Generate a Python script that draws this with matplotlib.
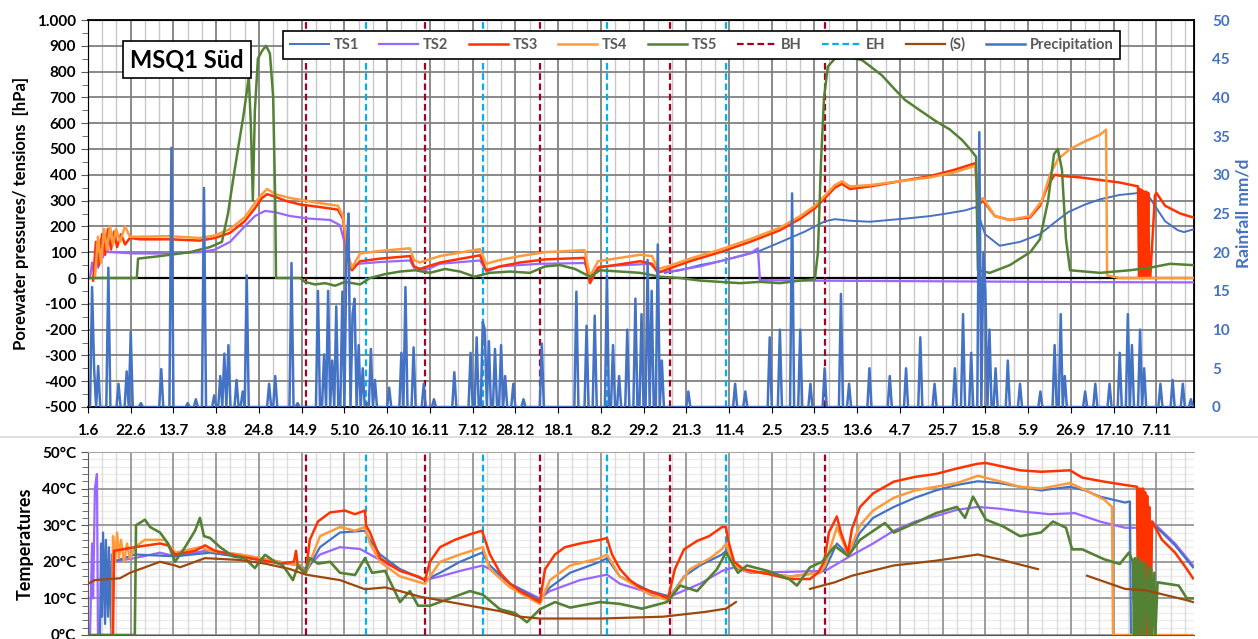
import numpy as np
import matplotlib
matplotlib.use("Agg")
import matplotlib.pyplot as plt
from matplotlib.lines import Line2D

plt.rcParams["font.family"] = ["Lato", "DejaVu Sans"]
plt.rcParams["font.weight"] = "bold"
plt.rcParams["axes.labelweight"] = "bold"

# x axis: days since 1.6.2019, one label every 21 days
X_LABELS = ["1.6", "22.6", "13.7", "3.8", "24.8", "14.9", "5.10", "26.10", "16.11",
            "7.12", "28.12", "18.1", "8.2", "29.2", "21.3", "11.4", "2.5", "23.5",
            "13.6", "4.7", "25.7", "15.8", "5.9", "26.9", "17.10", "7.11"]
N_DAYS = 543.5

# event markers (days)
BH_DAYS = [107, 165.6, 222, 286, 362]
EH_DAYS = [136.6, 194, 255, 313.5]

# ---------------- porewater pressures [hPa] ----------------
TS1_P_DAY = [283.5, 291, 300.7, 310.6, 320.4, 330, 337.6, 345, 352.3, 357.2, 362.2, 367, 374.4,
             384.3, 394, 404, 413.8, 423.6, 431, 436.4, 437.8, 440.8, 448, 458, 467.8, 475,
             481.6, 490, 497.3, 507, 517, 521, 524.3, 529.3, 535.6, 538.6, 543]
TS1_P_VAL = [20, 30, 50, 65, 85, 105, 130, 155, 180, 200, 220, 228, 222,
             218, 225, 232, 240, 252, 262, 275, 240, 170, 125, 140, 170, 215,
             255, 285, 305, 322, 330, 320, 280, 220, 185, 178, 188]

TS2_P_DAY = [1, 2, 3, 4, 5, 6.4, 7.4, 8.8, 9.8, 11.8, 23, 40.3, 55, 62.4, 69.8, 77, 82, 87, 92,
             99.3, 109, 119, 123.8, 126.3, 128.7, 132.7, 143.5, 158.2, 160.2, 165.6, 173,
             192.6, 196, 202.5, 222, 244, 247.2, 251.6, 276.2, 280, 286, 300.7, 315.5,
             325.3, 329.2, 330.2, 350, 399, 448, 497.3, 543]
TS2_P_VAL = [0, 60, 20, 120, 40, 150, 80, 160, 100, 100, 95, 95, 100, 110, 140, 200, 240, 260, 255,
             240, 230, 225, 205, 130, 40, 55, 62, 68, 40, 30, 55,
             68, 25, 45, 55, 58, 5, 45, 55, 25, 25, 45, 75,
             95, 115, -8, -10, -12, -14, -16, -17]

TS3_P_DAY = [2.5, 3.9, 5.4, 6.9, 8.4, 9.8, 11.3, 12.8, 14.3, 16.2, 18.2, 20.6, 25.6, 40.3, 55,
             62.4, 69.8, 77, 82, 85.5, 88, 92, 96.8, 104.2, 114, 122.8, 125.3, 127.8, 129.7,
             133.7, 143.5, 158.2, 160.2, 163, 173, 192.6, 195.6, 202.5, 212.3, 224.6, 244,
             246.7, 250.6, 271.3, 277.2, 280, 285, 295.8, 310.6, 325.3, 340, 350, 357.2,
             362.2, 367, 370.5, 374.4, 384.3, 399, 413.8, 426, 436, 437.3, 439.8, 445.7,
             453, 463, 467.8, 471.8, 475, 479, 487.5, 497.3, 507, 516, 516.5, 517, 517.5,
             518, 518.5, 519, 519.5, 520, 520.5, 521, 521.5, 522, 524.3, 525, 529.3,
             536.7, 543]
TS3_P_VAL = [-10, 140, 50, 170, 90, 190, 110, 180, 120, 170, 130, 155, 150, 150, 145,
             155, 175, 220, 270, 310, 325, 315, 300, 285, 275, 265, 230, 70, 30,
             65, 75, 85, 45, 35, 60, 88, 30, 45, 60, 72, 78,
             -20, 40, 65, 55, 20, 35, 65, 100, 140, 185, 230, 270,
             310, 350, 365, 345, 355, 375, 395, 420, 445, 280, 300, 240,
             225, 235, 280, 360, 400, 395, 390, 380, 370, 355, 0, 345, 0,
             340, 0, 335, 0, 335, 0, 330, 0, 0, 320, 330, 280,
             250, 235]

TS4_P_DAY = [3.4, 4.9, 6.4, 7.9, 9.3, 10.8, 12.3, 13.8, 15.7, 18.2, 20.6, 25.6, 40.3, 55,
             62.4, 69.8, 77, 82, 85.5, 88, 92, 99.3, 106.6, 114, 122.8, 125.3, 127.8,
             129.7, 133.7, 143.5, 158.2, 160.2, 163, 173, 192.6, 195.6, 202.5, 212.3,
             224.6, 244, 246.7, 250.6, 271.3, 277.2, 280, 285, 295.8, 310.6, 325.3, 340,
             350, 357.2, 362.2, 367, 370.5, 374.4, 384.3, 399, 413.8, 426, 436, 437.3,
             439.8, 445.7, 453, 463, 468.8, 472.7, 476.6, 482.6, 490, 497.3, 500.3, 500.8,
             507, 543]
TS4_P_VAL = [0, 160, 60, 190, 110, 200, 130, 190, 140, 200, 160, 160, 162, 155,
             165, 190, 235, 290, 325, 345, 325, 310, 300, 290, 280, 240, 90,
             40, 95, 105, 115, 70, 60, 85, 112, 55, 70, 85,
             100, 108, 5, 65, 90, 85, 35, 45, 75, 110, 150, 195,
             240, 280, 320, 360, 375, 355, 360, 375, 390, 410, 435, 290,
             310, 240, 225, 240, 300, 400, 460, 500, 530, 555, 575, 10,
             0, 0]

TS5_P_DAY = [0, 24, 24.6, 35.4, 50, 60, 65.8, 68.8, 71.3, 73.7, 76.2, 78, 79, 80, 81, 82,
             83.5, 85.5, 87.5, 89.4, 91, 92, 92.4, 104.2, 106.6, 111.5, 116.5, 121.4,
             126.3, 133.7, 138.6, 146, 153.3, 160.7, 168, 175.4, 182.8, 190, 197.5, 207.4,
             217.2, 224.6, 232, 239.3, 246.7, 251.6, 261.4, 271.3, 281, 291, 300.7, 310.6,
             320.4, 330.2, 340, 350, 357.2, 358.7, 360.2, 361.7, 363.6, 367, 374.4, 380.3,
             385.3, 390.2, 396.6, 401.5, 408.8, 416.2, 423.6, 429.5, 433.4, 436.4, 437.3,
             443.2, 453, 463, 467.8, 471.8, 474.7, 476.6, 478.6, 480.6, 482.6, 497.3, 512,
             521.9, 531.7, 543]
TS5_P_VAL = [0, 0, 75, 85, 100, 120, 140, 250, 380, 500, 620, 720, 780, 600, 300, 650,
             850, 880, 900, 870, 700, 300, 0, 0, -15, -25, -20, -30,
             -15, -25, 0, 15, 25, 30, 20, 35, 25, 5, 20, 25,
             20, 45, 50, 35, 5, 30, 25, 20, 5, 0, -10, -15,
             -20, -15, -20, -10, -5, 100, 450, 700, 820, 850, 855, 845,
             815, 785, 730, 690, 650, 610, 575, 535, 500, 470, 30,
             20, 50, 100, 150, 300, 480, 500, 420, 150, 30, 20, 30,
             40, 55, 50]

# ---------------- rainfall [mm/d] (day, amount) ----------------
RAIN_DAY = [2, 3, 5, 10, 15, 19, 21, 26, 36, 41, 49, 53, 57, 62, 65, 67, 69, 73, 76, 78, 89,
            92, 100, 103, 113, 116, 118, 120, 122, 125, 127, 128, 130, 131, 133, 135, 137,
            139, 141, 148, 154, 156, 160, 165, 170, 180, 188, 191, 194, 195, 197, 200, 203,
            205, 209, 214, 223, 240, 245, 249, 255, 258, 261, 265, 269, 272, 275, 277, 280,
            282, 295, 318, 323, 335, 340, 346, 350, 355, 362, 370, 374, 384, 394, 402, 409,
            416, 426, 430, 434, 438, 440, 441, 443, 446, 452, 458, 468, 475, 478, 480, 490,
            495, 502, 507, 511, 513, 517, 519, 527, 533, 538, 542]
RAIN_MM = [15.5, 5, 5.3, 18, 3, 4.6, 9.7, 0.5, 4.9, 33.5, 0.5, 1, 28.3, 1.5, 4, 6.9, 8, 3.5, 2,
           17, 3, 4, 18.6, 0.5, 15, 6.8, 15, 6, 13, 14.9, 20, 25, 12, 14, 8, 5, 0.5,
           7.5, 3.5, 2.5, 7, 15.5, 7.7, 3, 1, 4.5, 7, 9, 11, 10, 8.5, 7.5, 8,
           4, 3, 1, 8.2, 14.9, 10.5, 11.8, 17, 8, 4, 10, 14, 12, 19, 15, 21,
           6, 2, 3, 2, 9, 10, 27.6, 10, 3, 5, 14.6, 3, 5, 4, 5, 9,
           3, 5, 12, 7, 35.5, 20, 15, 10, 5, 6, 3, 2, 8, 12, 4, 2,
           3, 3, 7, 12, 8, 10, 5, 3, 3.5, 3, 1]

# ---------------- temperatures [°C] ----------------
TS1_T_DAY = [5.9, 6.4, 6.9, 7.4, 8.4, 8.8, 9.8, 10.3, 11.3, 11.8, 12.3, 23, 42.8, 60, 84.5,
             104.2, 107, 114, 123.8, 136.1, 138.6, 143.5, 153.3, 165.6, 173, 182.8, 193.6,
             197.5, 207.4, 222, 227, 236.9, 251.6, 255, 261.4, 276.2, 286, 292.9, 300.7,
             311.6, 313.5, 317.5, 322.9, 345, 359.7, 362.2, 368, 373.5, 379.4, 385.8, 396,
             406.4, 416.7, 427, 437.3, 448, 458, 468.3, 482.6, 490, 497.3, 509.6, 512,
             512.5, 521.4, 521.9, 527.8, 534.2, 543]
TS1_T_VAL = [0, 25, 5, 28, 3, 26, 5, 24, 2, 22, 20, 22, 21.5, 22.5, 20.5,
             19, 17, 24, 28, 28.5, 26, 22, 18, 15, 17, 20, 22.5,
             19, 14, 9.5, 13, 17, 20, 21, 16, 12, 10.5, 16, 19,
             22, 23, 19, 17.5, 16, 17, 18, 25, 22, 28, 32, 35,
             37.5, 39.5, 41, 42, 41.5, 40.5, 39.5, 40.5, 39.5, 37.8, 36.2, 36.5,
             0, 0, 31, 28, 24.5, 18.5]

TS2_T_DAY = [1, 2, 2.5, 3.4, 4.4, 4.9, 11.3, 11.8, 23, 35.4, 42.8, 57.5, 74.7, 94.3, 104.2,
             107, 114, 123.8, 133.7, 138.6, 148.4, 165.6, 173, 182.8, 194, 197.5, 207.4, 222,
             227, 241.8, 255, 261.4, 276.2, 286, 300.7, 311.6, 317.5, 325.3, 362.2, 374.4,
             385.8, 396, 406.4, 416.7, 427, 437.3, 448, 458, 472.7, 485, 497.3, 509.6, 519.9,
             520.4, 521.9, 522.9, 534.2, 543]
TS2_T_VAL = [0, 25, 10, 40, 44, 0, 0, 20, 21, 22.5, 21.5, 23, 22, 20, 19,
             18, 22, 24, 23.5, 22, 19, 15, 16, 17.5, 19, 18, 14, 10,
             12, 15, 16.5, 14, 11.5, 10.5, 14, 17.5, 18.5, 17, 17.5, 21.5,
             25, 28.5, 31, 32.5, 34.2, 35, 34.5, 33.8, 33, 33.3, 31, 29.3, 29.3,
             0, 0, 31, 25, 19]

TS3_T_DAY = [12.3, 12.8, 23, 35.4, 39.3, 42.8, 52.6, 57.5, 62.4, 74.7, 84.5, 94.3, 101.2, 102.2,
             103.2, 107, 109, 113, 119, 126.3, 131.2, 136.1, 136.6, 138.6, 143.5, 153.3,
             162.2, 165.6, 168, 173, 180.3, 187.7, 193.6, 197.5, 202.5, 207.4, 212.3, 222,
             224.6, 229.5, 234.4, 241.8, 251.6, 255, 257.5, 261.4, 266.3, 271.3, 278.6, 285,
             288.4, 292.9, 299.3, 305.2, 311.6, 313.5, 314.5, 317.5, 322, 334, 344.5, 354.8,
             358.7, 361.7, 364.1, 368, 370, 373.5, 375.4, 379.4, 385.8, 396, 406.4, 416.7,
             427, 437.3, 441.3, 458, 468.3, 482.6, 488.6, 499.3, 509.6, 515.5, 516, 516.5,
             517, 517.5, 518, 518.5, 519, 519.5, 520, 520.5, 521, 521.5, 522, 522.9, 527.8,
             534.2, 540, 543]
TS3_T_VAL = [0, 23, 24, 25, 24.5, 22, 23, 24.5, 23, 21.5, 20.5, 19.5, 20, 23,
             18.5, 17, 26, 31, 33.5, 34, 33, 34, 30, 28, 21, 17.5,
             16, 15, 20, 24, 26, 27.5, 28.5, 22, 17, 14, 12, 9,
             18, 22, 24, 25, 26, 26.5, 22, 18, 15, 13, 11.5, 10,
             18, 23.4, 25.7, 27, 29.5, 29.5, 26, 20, 18, 16.7, 15.3, 15.3,
             17, 20, 28, 32.4, 28, 22.5, 29, 35, 38.7, 41.9, 43.2, 44,
             45.5, 46.8, 47, 45, 44.6, 45, 43, 41.9, 41, 40.5, 0, 40,
             0, 40, 0, 40, 0, 39, 0, 38, 0, 35, 0, 31, 26,
             22.5, 18, 15.5]

TS4_T_DAY = [11.8, 12.3, 13.3, 14.3, 15.2, 16.2, 17.7, 19.2, 20.6, 23, 27.9, 37.8, 42.8, 55, 60,
             74.7, 94.3, 104.2, 107, 114, 123.8, 131.2, 136.1, 138.6, 143.5, 153.3, 165.6,
             173, 182.8, 194, 197.5, 207.4, 222, 227, 236.9, 251.6, 255, 261.4, 276.2, 285,
             295.8, 305.7, 311.6, 313.5, 317.5, 322.9, 345, 359.7, 362.2, 368, 373.5, 379.4,
             385.8, 396, 406.4, 416.7, 427, 437.3, 448, 458, 468.3, 482.6, 488.6, 499.3,
             503.2, 503.7, 543]
TS4_T_VAL = [0, 27, 20, 28, 21, 26, 20, 25, 21, 24, 26, 26, 22.5, 24, 23,
             22, 20, 19, 17, 27, 29.5, 28.5, 29.5, 25, 20, 16, 14,
             20, 22, 24, 18, 13, 8.5, 15, 19, 21, 22, 16, 11, 9.5,
             18, 21, 23.5, 25, 19, 17.5, 16, 17, 19, 29.5, 22, 30,
             34, 37.5, 39.5, 40.5, 41.5, 43.5, 42, 40.5, 40, 41.5, 40, 37,
             35, 0, 0]

TS5_T_DAY = [0, 23, 23.6, 28, 30.5, 35.4, 39.3, 42.8, 47.7, 52.6, 55, 57, 60, 64.9, 71.3, 77,
             82, 87, 91.9, 95.8, 100.7, 103.2, 106.6, 109, 113, 119, 123.8, 131.2, 136.1,
             139.6, 146, 153.3, 158.2, 162.2, 168, 177.9, 187.7, 194, 202.5, 209.8, 215.7,
             222, 229.5, 236.9, 246.7, 251.6, 261.4, 272.2, 284.5, 291, 299.3, 309.1, 313.5,
             319.4, 323.8, 334, 344.5, 348.4, 354.8, 360.7, 367, 373.5, 379.4, 391.6, 396,
             406.4, 416.7, 427, 431, 434.9, 441.3, 449.6, 458, 468.3, 474.2, 480.6, 483.6,
             488.6, 499.3, 507, 511.5, 513.5, 514, 514.5, 515, 516, 516.5, 517.5, 518, 519,
             519.5, 521, 521.5, 522.5, 523, 524, 524.5, 525.6, 536, 540, 543]
TS5_T_VAL = [0, 0, 30, 31.5, 29.5, 28, 25, 20, 24, 28.5, 32, 27, 26.5, 24, 21.5, 21,
             18.3, 21.9, 20, 19, 15, 19, 17, 21, 19.5, 20, 17, 16.4, 21,
             17, 17.5, 9, 12, 8, 8, 10, 12, 11, 7, 6, 3.5,
             7, 9, 7.5, 8.5, 9, 8.5, 7.2, 9, 13.5, 12, 18, 22.5,
             17, 19, 17.5, 15.3, 13.5, 18.5, 20, 24.3, 21.6, 26, 30.6, 28,
             30.6, 33.3, 35, 32, 37.8, 31.5, 29.7, 27, 28, 31, 29.3, 23.4,
             23.4, 20.7, 19.4, 22.5, 20, 0, 21, 0, 21, 0, 20, 0, 20,
             0, 19, 0, 18, 0, 17, 0, 14.4, 13.5, 10, 10]

# (S): three recorded stretches
S_T_DAY = [0, 3.4, 15.7, 20.6, 35.4, 42.8, 45.2, 57.5, 74.7, 87, 99.3, 107, 123.8, 131.2, 136.1,
           146, 153.3, 163, 173, 187.7, 202.5, 212.3, 222, 232, 251.6, 282.6, 303.2, 313.5,
           318.4, np.nan, 354.8, 367, 375.4, 396, 416.7, 437.3, 447.7, 466.8, np.nan,
           490.9, 509.6, 519.9, 540, 543]
S_T_VAL = [14, 15, 15.5, 17, 20, 19, 18.5, 21, 20.5, 19.5, 18, 16.5, 15, 13.5, 12.5,
           13, 12, 10.5, 9.5, 8, 6.5, 5, 4.5, 4.5, 4.5, 5, 6.3, 7.2,
           9, np.nan, 12.6, 14.4, 16.2, 19, 20.3, 22, 20.7, 18, np.nan,
           16.2, 12.6, 12.2, 9.5, 9]

C_TS1 = "#4472C4"
C_TS2 = "#9966FF"
C_TS3 = "#FF3300"
C_TS4 = "#FF9A3C"
C_TS5 = "#548235"
C_BH = "#A50021"
C_EH = "#00B0F0"
C_S = "#9E480E"
C_RAIN = "#4472C4"
DASH = (0, (3, 1.6))

W, H = 1258, 639
fig = plt.figure(figsize=(W / 100, H / 100), dpi=100)

major_x = np.arange(0, N_DAYS, 21)
minor_x = [d for d in np.arange(0, N_DAYS, 7) if d % 21]

# ---------------- top panel ----------------
ax = fig.add_axes([88 / W, 1 - 407 / H, 1106 / W, 387 / H])
ax.set_xlim(0, N_DAYS)
ax.set_ylim(-500, 1000)
ax.set_xticks(major_x)
ax.set_xticklabels(X_LABELS, fontsize=11, fontweight="bold")
ax.set_yticks(np.arange(-500, 1001, 100))
ax.set_yticks(np.arange(-450, 1000, 100), minor=True)
ax.set_yticklabels(["1.000" if v == 1000 else str(v) for v in range(-500, 1001, 100)],
                   fontsize=11, fontweight="bold")
for d in minor_x:
    ax.axvline(d, color="#c8c8c8", lw=1.0, zorder=0.2)
ax.grid(which="major", color="#808080", lw=1.3)
ax.tick_params(axis="x", which="major", length=4, pad=8, color="black")
ax.tick_params(axis="y", which="major", length=5, color="#595959")
ax.tick_params(axis="y", which="minor", length=4, color="#595959")
ax.set_axisbelow(True)
ax.axhline(0, color="black", lw=1.6, zorder=1.5)
for sp in ["top", "right", "bottom"]:
    ax.spines[sp].set_color("black")
    ax.spines[sp].set_linewidth(1.3)
ax.spines["left"].set_color("#595959")
ax.set_ylabel("Porewater pressures/ tensions  [hPa]", fontsize=12, fontweight="bold",
              labelpad=6)

for d in BH_DAYS:
    ax.axvline(d, color=C_BH, lw=1.6, ls=DASH, zorder=2)
for d in EH_DAYS:
    ax.axvline(d, color=C_EH, lw=1.6, ls=DASH, zorder=2)

h_ts1, = ax.plot(TS1_P_DAY, TS1_P_VAL, color=C_TS1, lw=1.4, label="TS1", zorder=3)
h_ts2, = ax.plot(TS2_P_DAY, TS2_P_VAL, color=C_TS2, lw=1.6, label="TS2", zorder=3)
h_ts3, = ax.plot(TS3_P_DAY, TS3_P_VAL, color=C_TS3, lw=1.8, label="TS3", zorder=3)
h_ts4, = ax.plot(TS4_P_DAY, TS4_P_VAL, color=C_TS4, lw=1.8, label="TS4", zorder=3)
h_ts5, = ax.plot(TS5_P_DAY, TS5_P_VAL, color=C_TS5, lw=1.8, label="TS5", zorder=3)

ax.text(0.0895, 0.897, "MSQ1 Süd", transform=ax.transAxes, ha="center", va="center",
        fontsize=17, fontweight="bold", zorder=10,
        bbox=dict(boxstyle="square,pad=0.3", fc="white", ec="black", lw=1.2))

ax2 = ax.twinx()
ax2.set_ylim(0, 50)
ax2.set_yticks(np.arange(0, 51, 5))
ax2.tick_params(axis="y", length=0, pad=13, labelcolor=C_RAIN, labelsize=11)
for t in ax2.get_yticklabels():
    t.set_fontweight("bold")
ax2.set_ylabel("Rainfall mm/d", color=C_RAIN, fontsize=12.5, fontweight="bold", labelpad=4)
rain = np.zeros(int(N_DAYS) + 1)
rain[RAIN_DAY] = RAIN_MM
h_rain, = ax2.plot(np.arange(rain.size), rain, color=C_RAIN, lw=1.8, label="Precipitation")

h_bh = Line2D([], [], color=C_BH, lw=1.6, ls=DASH, label="BH")
h_eh = Line2D([], [], color=C_EH, lw=1.6, ls=DASH, label="EH")
h_s = Line2D([], [], color=C_S, lw=1.6, label="(S)")
leg = ax2.legend(handles=[h_ts1, h_ts2, h_ts3, h_ts4, h_ts5, h_bh, h_eh, h_s, h_rain],
                 loc="upper left", bbox_to_anchor=(0.1763, 0.9716), borderaxespad=0,
                 ncol=9, fontsize=10.5, handlelength=2.7, handletextpad=0.3,
                 columnspacing=1.4, borderpad=0.45, fancybox=False, framealpha=1,
                 edgecolor="black")
leg.get_frame().set_linewidth(1.2)
for t in leg.get_texts():
    t.set_color("#595959")
    t.set_fontweight("bold")

# ---------------- bottom panel ----------------
axt = fig.add_axes([88 / W, 4 / H, 1106 / W, 183 / H])
axt.set_xlim(0, N_DAYS)
axt.set_ylim(0, 50)
axt.set_xticks(major_x)
axt.set_xticklabels([])
axt.set_yticks(np.arange(0, 51, 10))
minor_t = [v for v in range(0, 51, 2) if v % 10]
axt.set_yticks(minor_t, minor=True)
axt.set_yticklabels([f"{v}°C" for v in range(0, 51, 10)], fontsize=11, fontweight="bold")
for d in minor_x:
    axt.axvline(d, color="#dcdcdc", lw=1.0, zorder=0.2)
for v in minor_t:
    axt.axhline(v, color="#ececec", lw=1.0, zorder=0.1)
axt.grid(which="major", color="#8c8c8c", lw=1.2)
axt.set_axisbelow(True)
axt.tick_params(axis="x", which="both", length=0)
axt.tick_params(axis="y", which="major", length=5, color="#595959")
axt.tick_params(axis="y", which="minor", length=4, color="#595959")
axt.spines["top"].set_color("#a6a6a6")
axt.spines["right"].set_visible(False)
axt.spines["left"].set_color("#595959")
axt.spines["bottom"].set_color("#595959")
axt.set_ylabel("Temperatures", fontsize=13, fontweight="bold", labelpad=6)

for d in BH_DAYS:
    axt.axvline(d, color=C_BH, lw=1.6, ls=DASH, zorder=2)
for d in EH_DAYS:
    axt.axvline(d, color=C_EH, lw=1.6, ls=DASH, zorder=2)

axt.plot(TS2_T_DAY, TS2_T_VAL, color=C_TS2, lw=1.6, zorder=3)
axt.plot(TS1_T_DAY, TS1_T_VAL, color=C_TS1, lw=1.6, zorder=3)
axt.plot(TS4_T_DAY, TS4_T_VAL, color=C_TS4, lw=1.8, zorder=3)
axt.plot(TS3_T_DAY, TS3_T_VAL, color=C_TS3, lw=1.8, zorder=3)
axt.plot(TS5_T_DAY, TS5_T_VAL, color=C_TS5, lw=1.9, zorder=3)
axt.plot(S_T_DAY, S_T_VAL, color=C_S, lw=1.6, zorder=3)

fig.add_artist(Line2D([0, 1], [1 - 437 / H] * 2, color="#d9d9d9", lw=1.2))

fig.savefig("out.png", dpi=100)
